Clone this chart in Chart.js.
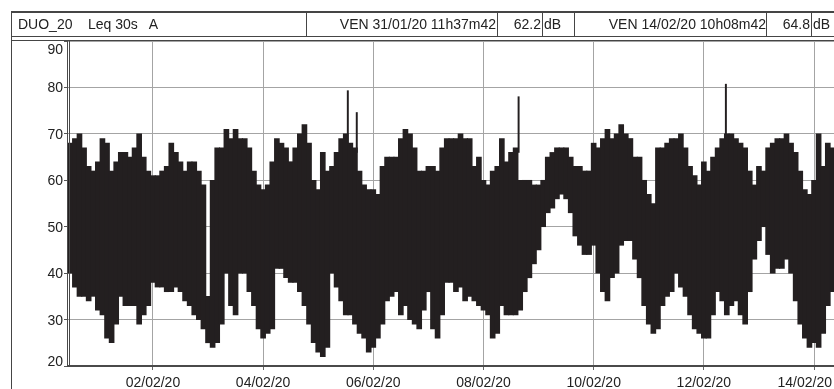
<!DOCTYPE html>
<html>
<head>
<meta charset="utf-8">
<script src="https://cdn.jsdelivr.net/npm/chart.js@4.4.1/dist/chart.umd.min.js"></script>
<style>
  html, body { margin: 0; padding: 0; background: #fff; }
  #wrap { position: relative; width: 834px; height: 389px; overflow: hidden;
          font: 14px "Liberation Sans", Arial, sans-serif; color: #222; }
  #c { position: absolute; left: 0; top: 0; }
  .line { position: absolute; border-color: #454545; border-style: solid; border-width: 0; }
  .cell { position: absolute; top: 11px; height: 26px; box-sizing: border-box;
          border: 1px solid #454545; border-top-width: 2px; line-height: 23px;
          white-space: pre; overflow: visible; }
  .r { text-align: right; }
</style>
</head>
<body>
<div id="wrap">
  <canvas id="c" width="834" height="389"></canvas>
  <div class="line" style="left:11px;top:11px;height:378px;border-left-width:1px"></div>
  <div class="line" style="left:11px;top:40px;width:823px;border-top-width:1px"></div>
  <div class="cell" style="left:11px;width:296px;padding-left:6px">DUO_20    Leq 30s   A</div>
  <div class="cell r" style="left:306px;width:192px;padding-right:1px">VEN 31/01/20 11h37m42</div>
  <div class="cell r" style="left:497px;width:46px;padding-right:1px">62.2</div>
  <div class="cell" style="left:542px;width:33px;padding-left:1px">dB</div>
  <div class="cell r" style="left:574px;width:193px;padding-right:0">VEN 14/02/20 10h08m42</div>
  <div class="cell r" style="left:766px;width:46px;padding-right:1px">64.8</div>
  <div class="cell" style="left:811px;width:30px;padding-left:1px">dB</div>
</div>
<script>
// Leq 30s, summarised as min/max envelope per 2-hour slot (hours counted from 31/01 00h)
const START_HOUR = 12
const STEP_HOURS = 2

const levelMax = [
  68, 69, 70, 67, 63, 62, 64, 69, 68, 62, 64, 66, 66, 65, 67, 70, 65, 62, 61, 61, 62, 63, 68, 66, 64, 62, 64, 64,
  62, 59, 35, 60, 67, 67, 71, 69, 71, 69, 69, 67, 62, 59, 58, 59, 64, 69, 68, 67, 64, 67, 70, 72, 68, 60, 58, 66,
  62, 63, 66, 69, 70, 68, 67, 62, 59, 58, 58, 57, 63, 65, 65, 65, 69, 71, 70, 67, 62, 62, 63, 63, 62, 67, 69, 69,
  69, 70, 69, 69, 63, 65, 60, 59, 62, 63, 69, 64, 66, 67, 60, 60, 60, 59, 59, 60, 65, 66, 67, 67, 67, 65, 63, 63,
  62, 62, 68, 67, 69, 71, 69, 70, 72, 70, 69, 65, 65, 60, 57, 55, 67, 67, 68, 69, 69, 70, 67, 63, 61, 59, 64,
  62, 65, 67, 69, 70, 70, 69, 68, 67, 62, 59, 63, 62, 67, 68, 69, 69, 70, 68, 66, 62, 58, 57, 60, 70, 63, 68, 67
]
const levelMin = [
  40, 37, 35, 35, 34, 35, 32, 31, 26, 25, 29, 35, 33, 33, 33, 29, 31, 33, 38, 37, 37, 36, 36, 37, 36, 34, 33, 31,
  30, 28, 25, 24, 25, 29, 40, 33, 31, 40, 40, 36, 33, 28, 26, 27, 28, 41, 41, 39, 38, 38, 36, 33, 29, 25, 23, 22,
  24, 40, 37, 34, 31, 31, 29, 27, 26, 23, 24, 26, 29, 34, 35, 36, 31, 33, 30, 29, 28, 32, 36, 28, 26, 31, 38, 38,
  36, 37, 34, 35, 34, 33, 32, 31, 26, 27, 33, 31, 31, 31, 32, 36, 39, 42, 45, 50, 53, 54, 56, 57, 56, 53, 48, 46,
  44, 44, 46, 40, 36, 34, 39, 40, 46, 47, 47, 43, 39, 33, 29, 27, 28, 33, 35, 36, 40, 37, 35, 31, 28, 27, 26,
  26, 31, 36, 34, 31, 33, 34, 31, 29, 36, 43, 47, 50, 44, 40, 41, 41, 43, 40, 34, 29, 26, 24, 25, 24, 27, 33, 36
]

// isolated peaks that stick out above the envelope
const spikeHours = [132.9, 136.8, 207.3, 297.6]
const spikeBase = [68, 66, 66, 69]
const spikeTop = [79.3, 74.6, 78, 80.7]

const tickHours = [48, 96, 144, 192, 240, 288, 336]
const tickLabels = ["02/02/20", "04/02/20", "06/02/20", "08/02/20", "10/02/20", "12/02/20", "14/02/20"]

const FONT = '14px "Liberation Sans", Arial, sans-serif'
const INK = "#231f20"

const envelope = levelMax.map((hi, i) => ({ x: START_HOUR + i * STEP_HOURS, y: [levelMin[i], hi] }))
const spikes = spikeHours.map((h, i) => ({ x: h, y: [spikeBase[i], spikeTop[i]] }))

// plot frame: double rule on the left, heavy rule at the bottom
const frame = {
  id: "frame",
  afterDatasetsDraw(chart) {
    const { ctx, chartArea: a } = chart
    ctx.save()
    ctx.strokeStyle = "#4a4a4a"
    ctx.lineWidth = 1
    ctx.beginPath()
    ctx.moveTo(a.left - 0.5, a.top); ctx.lineTo(a.left - 0.5, a.bottom)
    ctx.moveTo(a.left + 1.5, a.top); ctx.lineTo(a.left + 1.5, a.bottom)
    ctx.stroke()
    ctx.lineWidth = 2
    ctx.beginPath()
    ctx.moveTo(a.left - 1, a.bottom); ctx.lineTo(a.right, a.bottom)
    ctx.stroke()
    ctx.restore()
  }
}

// axis labels, kept inside the canvas like the original
const labels = {
  id: "labels",
  afterDraw(chart) {
    const { ctx, chartArea: a, scales: { x, y } } = chart
    ctx.save()
    ctx.font = FONT
    ctx.fillStyle = "#222"
    ctx.textBaseline = "alphabetic"
    ctx.textAlign = "right"
    y.ticks.forEach(t => {
      const py = Math.min(Math.max(y.getPixelForValue(t.value), a.top + 8), a.bottom - 5)
      ctx.fillText(String(t.value), a.left - 5, py + 5)
    })
    ctx.textAlign = "center"
    tickHours.forEach((h, i) => {
      const w = ctx.measureText(tickLabels[i]).width
      const px = Math.min(x.getPixelForValue(h), chart.width - 2 - w / 2)
      ctx.fillText(tickLabels[i], px, 387)
    })
    ctx.restore()
  }
}

new Chart(document.getElementById("c"), {
  type: "bar",
  data: {
    datasets: [
      { data: envelope, backgroundColor: INK, borderWidth: 0, barThickness: 5, grouped: false },
      { data: spikes, backgroundColor: INK, borderWidth: 0, barThickness: 1.3, grouped: false }
    ]
  },
  options: {
    responsive: false,
    animation: false,
    layout: { padding: { top: 41, left: 0, right: 0, bottom: 0 } },
    scales: {
      x: {
        type: "linear",
        offset: false,
        min: 11,
        max: 344.7,
        afterBuildTicks: s => { s.ticks = tickHours.map(v => ({ value: v })) },
        afterFit: s => { s.height = 23; s.paddingLeft = 0; s.paddingRight = 0 },
        ticks: { display: false },
        grid: { offset: false, color: "#a4a4a4", lineWidth: 1, tickLength: 4, tickColor: "#666" },
        border: { display: false }
      },
      y: {
        min: 20,
        max: 90,
        afterFit: s => { s.width = 68; s.paddingTop = 0; s.paddingBottom = 0 },
        ticks: { stepSize: 10, display: false },
        grid: { color: "#a4a4a4", lineWidth: 1, tickLength: 4, tickColor: "#555" },
        border: { display: false }
      }
    },
    plugins: { legend: { display: false }, tooltip: { enabled: false } }
  },
  plugins: [frame, labels]
})
</script>
</body>
</html>
